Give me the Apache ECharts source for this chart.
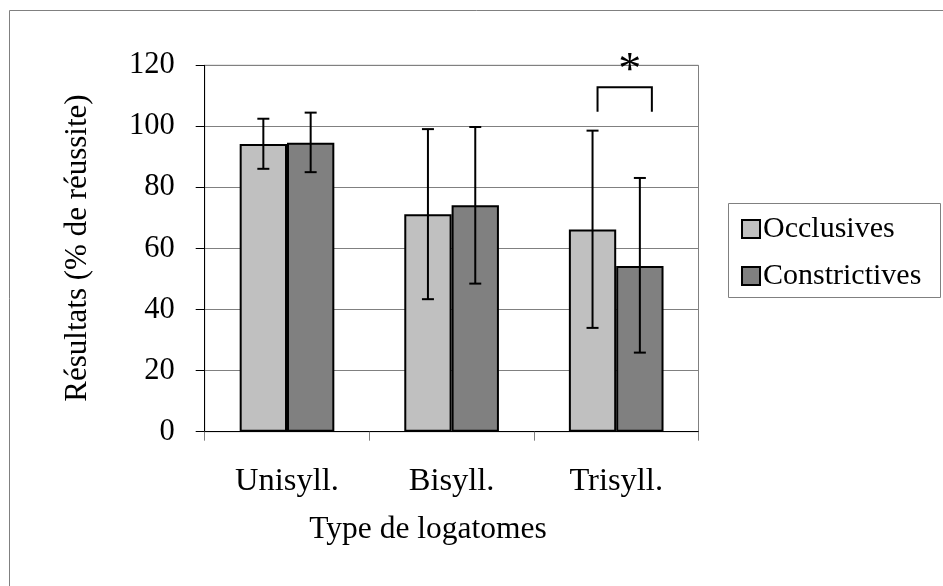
<!DOCTYPE html>
<html>
<head>
<meta charset="utf-8">
<script src="https://cdn.jsdelivr.net/npm/echarts@6/dist/echarts.min.js"></script>
<style>
html,body{margin:0;padding:0;background:#fff;}
#chart{width:943px;height:586px;}
</style>
</head>
<body>
<div id="chart"></div>
<script>
var categories = ['Unisyll.', 'Bisyll.', 'Trisyll.'];
var seriesNames = ['Occlusives', 'Constrictives'];
var occlusives = [94.2, 71.2, 66.2];
var constrictives = [94.6, 74.2, 54.3];
var occLow = [86.1, 43.4, 34.0];
var occHigh = [102.5, 99.1, 98.6];
var conLow = [85.0, 48.5, 25.9];
var conHigh = [104.5, 99.8, 83.1];
var bracket = [2, 104.8, 112.8];
var bracketLabel = '*';
var yTitle = 'Résultats (% de réussite)';
var xTitle = 'Type de logatomes';

var FONT = '"Liberation Serif", "Times New Roman", serif';
var CAT_GAP = 0.425;

function errData(lo, hi) {
  return categories.map(function (c, i) { return [i, lo[i], hi[i]]; });
}

function makeErrRender(side) {
  return function (params, api) {
    var idx = api.value(0);
    var band = api.size([1, 0])[0];
    var bw = band * (1 - CAT_GAP) / 2;
    var off = side * bw / 2;
    var lo = api.coord([idx, api.value(1)]);
    var hi = api.coord([idx, api.value(2)]);
    var x = lo[0] + off;
    var cap = 6;
    var st = { stroke: '#000', lineWidth: 2 };
    return {
      type: 'group',
      children: [
        { type: 'line', shape: { x1: x, y1: lo[1], x2: x, y2: hi[1] }, style: st },
        { type: 'line', shape: { x1: x - cap, y1: lo[1], x2: x + cap, y2: lo[1] }, style: st },
        { type: 'line', shape: { x1: x - cap, y1: hi[1], x2: x + cap, y2: hi[1] }, style: st }
      ]
    };
  };
}

var chart = echarts.init(document.getElementById('chart'), null, { renderer: 'canvas' });
chart.setOption({
  animation: false,
  backgroundColor: '#fff',
  textStyle: { fontFamily: FONT },
  grid: {
    left: 204.7, top: 65.3, right: 244.5, bottom: 154.3,
    show: true, borderColor: '#808080', borderWidth: 1, containLabel: false
  },
  legend: {
    data: seriesNames,
    orient: 'vertical',
    left: 741, top: 214,
    padding: 0,
    itemWidth: 18, itemHeight: 18,
    itemGap: 17,
    icon: 'rect',
    textStyle: { fontFamily: FONT, fontSize: 30, color: '#000', lineHeight: 30, padding: [0, 0, 0, -2] },
    selectedMode: false
  },
  xAxis: {
    type: 'category',
    data: categories,
    axisLine: { lineStyle: { color: '#000', width: 1 } },
    axisTick: { show: true, length: 9, lineStyle: { color: '#808080' } },
    axisLabel: { fontFamily: FONT, fontSize: 32.5, color: '#000', margin: 33 },
    splitLine: { show: false }
  },
  yAxis: {
    type: 'value',
    min: 0, max: 120, interval: 20,
    axisLine: { show: true, lineStyle: { color: '#000', width: 1 } },
    axisTick: { show: true, length: 9, lineStyle: { color: '#000' } },
    axisLabel: { fontFamily: FONT, fontSize: 30.5, color: '#000', margin: 30 },
    splitLine: { show: true, lineStyle: { color: '#808080', width: 1 } }
  },
  graphic: [
    { type: 'line', shape: { x1: 9.5, y1: 10.5, x2: 943, y2: 10.5 }, style: { stroke: '#808080', lineWidth: 1 } },
    { type: 'line', shape: { x1: 9.5, y1: 10.5, x2: 9.5, y2: 586 }, style: { stroke: '#808080', lineWidth: 1 } },
    { type: 'rect', shape: { x: 728.5, y: 203.5, width: 212, height: 94 }, style: { fill: 'none', stroke: '#808080', lineWidth: 1 } },
    { type: 'text', x: 78, y: 248, rotation: Math.PI / 2,
      style: { text: yTitle, font: '31px ' + FONT, fill: '#000', align: 'center', verticalAlign: 'middle' } },
    { type: 'text', x: 428, y: 530,
      style: { text: xTitle, font: '31.5px ' + FONT, fill: '#000', align: 'center', verticalAlign: 'middle' } }
  ],
  series: [
    {
      name: seriesNames[0], type: 'bar', data: occlusives,
      barGap: '0%', barCategoryGap: (CAT_GAP * 100) + '%',
      itemStyle: { color: '#c0c0c0', borderColor: '#000', borderWidth: 2 }
    },
    {
      name: seriesNames[1], type: 'bar', data: constrictives,
      barGap: '0%', barCategoryGap: (CAT_GAP * 100) + '%',
      itemStyle: { color: '#808080', borderColor: '#000', borderWidth: 2 }
    },
    {
      type: 'custom', name: 'errOcc', data: errData(occLow, occHigh),
      renderItem: makeErrRender(-1), encode: { x: 0, y: [1, 2] }, z: 5, silent: true
    },
    {
      type: 'custom', name: 'errCon', data: errData(conLow, conHigh),
      renderItem: makeErrRender(1), encode: { x: 0, y: [1, 2] }, z: 5, silent: true
    },
    {
      type: 'custom', name: 'signif', data: [bracket],
      encode: { x: 0, y: [1, 2] }, z: 5, silent: true,
      renderItem: function (params, api) {
        var idx = api.value(0);
        var band = api.size([1, 0])[0];
        var bw = band * (1 - CAT_GAP) / 2;
        var c0 = api.coord([idx, api.value(1)]);
        var c1 = api.coord([idx, api.value(2)]);
        var xl = c0[0] - bw / 2 + 5, xr = c0[0] + bw / 2 + 12;
        return {
          type: 'group',
          children: [
            { type: 'polyline', shape: { points: [[xl, c0[1]], [xl, c1[1]], [xr, c1[1]], [xr, c0[1]]] },
              style: { stroke: '#000', lineWidth: 2, fill: 'none' } },
            { type: 'text', x: (xl + xr) / 2 + 5, y: c1[1] - 15,
              style: { text: bracketLabel, font: '46px ' + FONT, fill: '#000', align: 'center', verticalAlign: 'middle' } }
          ]
        };
      }
    }
  ]
});
</script>
</body>
</html>
